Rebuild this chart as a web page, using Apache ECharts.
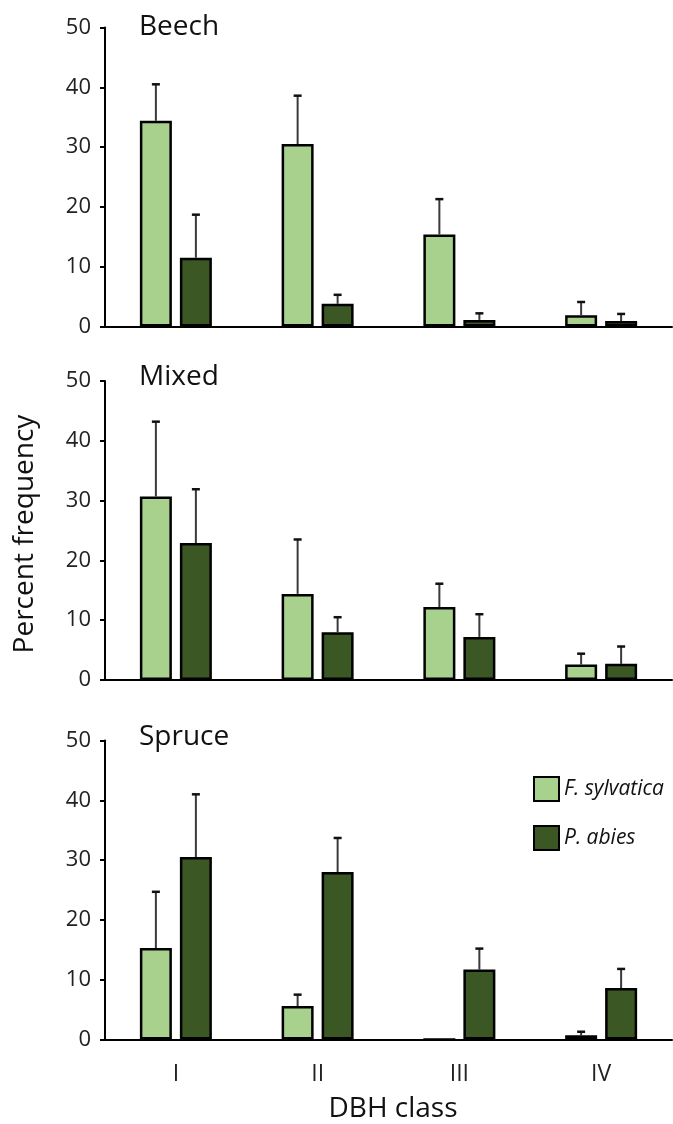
<!DOCTYPE html>
<html>
<head>
<meta charset="utf-8">
<script src="https://cdn.jsdelivr.net/npm/echarts@6/dist/echarts.min.js"></script>
<style>
  html, body { margin: 0; padding: 0; background: #fff; }
  #chart { width: 673px; height: 1124px; }
</style>
</head>
<body>
<div id="chart"></div>
<script>
// DBH classes on the x axis
const categories = ['I', 'II', 'III', 'IV'];
const panelNames = ['Beech', 'Mixed', 'Spruce'];
const speciesNames = ['F. sylvatica', 'P. abies'];
const yTicks = [0, 10, 20, 30, 40, 50];

// Percent frequency (mean) and upper error (SD) per stand type
const beechFagus = [34.4, 30.5, 15.4, 1.9];
const beechFagusSd = [6.1, 8.1, 5.9, 2.2];
const beechPicea = [11.5, 3.8, 1.1, 0.9];
const beechPiceaSd = [7.2, 1.5, 1.1, 1.2];

const mixedFagus = [30.7, 14.4, 12.2, 2.6];
const mixedFagusSd = [12.5, 9.1, 3.9, 1.8];
const mixedPicea = [22.9, 8.0, 7.2, 2.7];
const mixedPiceaSd = [9.0, 2.5, 3.8, 2.9];

const spruceFagus = [15.3, 5.6, 0, 0.7];
const spruceFagusSd = [9.4, 1.9, 0, 0.6];
const sprucePicea = [30.5, 28.0, 11.7, 8.6];
const sprucePiceaSd = [10.5, 5.7, 3.5, 3.2];

const panelData = [
  [beechFagus, beechFagusSd, beechPicea, beechPiceaSd],
  [mixedFagus, mixedFagusSd, mixedPicea, mixedPiceaSd],
  [spruceFagus, spruceFagusSd, sprucePicea, sprucePiceaSd]
];

const LIGHT = '#a9d18e';
const DARK = '#3b5724';
const FONT = '"Open Sans", "Noto Sans", sans-serif';
const BAR_W = 32;
const BAR_GAP = 8;
const HALF_STEP = (BAR_W + BAR_GAP) / 2;

const gridTops = [27.5, 381, 740.5];
const grids = gridTops.map(t => ({ left: 105, width: 567, top: t, height: 299 }));

const xAxes = grids.map((g, i) => ({
  type: 'category',
  gridIndex: i,
  data: categories,
  axisLine: { show: true, lineStyle: { color: '#000', width: 2 } },
  axisTick: { show: false },
  axisLabel: {
    show: i === 2,
    fontFamily: FONT, fontSize: 23, color: '#222', margin: 23
  }
}));

const yAxes = grids.map((g, i) => ({
  type: 'value',
  gridIndex: i,
  min: yTicks[0], max: yTicks[yTicks.length - 1], interval: 10,
  axisLine: { show: true, lineStyle: { color: '#000', width: 2 } },
  axisTick: { show: true, length: 5, lineStyle: { color: '#000', width: 2 } },
  splitLine: { show: false },
  axisLabel: { fontFamily: FONT, fontSize: 22, color: '#222', margin: 14 }
}));

function errorRender(params, api) {
  const cat = api.value(0), mean = api.value(1), sd = api.value(2), side = api.value(3);
  if (!sd) return null;
  const base = api.coord([cat, mean]);
  const top = api.coord([cat, mean + sd]);
  const x = base[0] + side * HALF_STEP;
  return {
    type: 'group',
    children: [
      { type: 'line', shape: { x1: x, y1: base[1], x2: x, y2: top[1] },
        style: { stroke: '#3a3a3a', lineWidth: 2 } },
      { type: 'line', shape: { x1: x - 4, y1: top[1], x2: x + 4, y2: top[1] },
        style: { stroke: '#111', lineWidth: 2.5 } }
    ]
  };
}

const series = [];
panelData.forEach((d, i) => {
  const [fMean, fSd, pMean, pSd] = d;
  series.push({
    name: speciesNames[0], type: 'bar', xAxisIndex: i, yAxisIndex: i,
    data: fMean, barWidth: BAR_W, barGap: (BAR_GAP / BAR_W * 100) + '%', z: 3,
    itemStyle: { color: LIGHT, borderColor: '#000', borderWidth: 2.5 }
  });
  series.push({
    name: speciesNames[1], type: 'bar', xAxisIndex: i, yAxisIndex: i,
    data: pMean, barWidth: BAR_W, barGap: (BAR_GAP / BAR_W * 100) + '%', z: 3,
    itemStyle: { color: DARK, borderColor: '#000', borderWidth: 2.5 }
  });
  const errData = [];
  categories.forEach((c, k) => {
    errData.push([k, fMean[k], fSd[k], -1]);
    errData.push([k, pMean[k], pSd[k], 1]);
  });
  series.push({
    type: 'custom', xAxisIndex: i, yAxisIndex: i, z: 2, silent: true,
    renderItem: errorRender, data: errData,
    encode: { x: 0, y: 1 }
  });
});

const titleY = [27, 377.5, 737.5];
const graphic = panelNames.map((n, i) => ({
  type: 'text', x: 139, y: titleY[i],
  style: { text: n, fontFamily: FONT, fontSize: 28, fill: '#111', verticalAlign: 'middle' }
}));
graphic.push({
  type: 'text', x: 25, y: 534, rotation: Math.PI / 2,
  style: { text: 'Percent frequency', fontFamily: FONT, fontSize: 28, fill: '#111',
    align: 'center', verticalAlign: 'middle' }
});
graphic.push({
  type: 'text', x: 393, y: 1109,
  style: { text: 'DBH class', fontFamily: FONT, fontSize: 28, fill: '#111',
    align: 'center', verticalAlign: 'middle' }
});

const chart = echarts.init(document.getElementById('chart'), null, { renderer: 'canvas' });
chart.setOption({
  animation: false,
  backgroundColor: '#fff',
  grid: grids,
  xAxis: xAxes,
  yAxis: yAxes,
  legend: {
    data: speciesNames,
    orient: 'vertical',
    left: 528, top: 771,
    itemWidth: 25, itemHeight: 24, itemGap: 23,
    icon: 'rect',
    textStyle: { fontFamily: FONT, fontSize: 21, fontStyle: 'italic', color: '#111',
      padding: [6, 0, 0, 0] }
  },
  series: series,
  graphic: graphic
});
</script>
</body>
</html>
